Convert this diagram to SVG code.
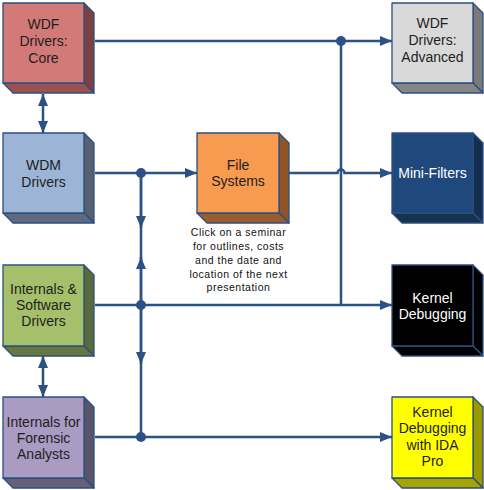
<svg xmlns="http://www.w3.org/2000/svg" width="484" height="490" viewBox="0 0 484 490">
<defs>
<style>
.f{stroke:#2c4f80;stroke-width:1.3;stroke-linejoin:round}
.t{font-family:"Liberation Sans",Arial,sans-serif;font-size:14px;text-anchor:middle;fill:#1e1e1e}
.w{fill:#ffffff}
.cap{font-family:"Liberation Sans",Arial,sans-serif;font-size:10.5px;letter-spacing:0.5px;text-anchor:middle;fill:#111}
.ln{fill:none;stroke:#2c5185;stroke-width:2.5}
.dot{fill:#2c5185}
</style>
<marker id="ah" viewBox="0 0 12 10" refX="12" refY="5" markerWidth="12" markerHeight="10" markerUnits="userSpaceOnUse" orient="auto">
<path d="M0,0 L12,5 L0,10 Z" fill="#2c5185"/>
</marker>
</defs>

<g id="connectors">
<!-- Core to Advanced -->
<line class="ln" x1="95" y1="41" x2="392" y2="41" marker-end="url(#ah)"/>
<line class="ln" x1="341" y1="41" x2="341" y2="305"/>
<circle class="dot" cx="341" cy="41" r="5"/>
<!-- WDM to File Systems -->
<line class="ln" x1="95" y1="173" x2="197" y2="173" marker-end="url(#ah)"/>
<!-- File Systems to Mini-Filters with hop -->
<path class="ln" d="M289,173 H337.5 A3.5,3.5 0 0 1 344.5,173 H392" marker-end="url(#ah)"/>
<!-- Internals to Kernel Debugging -->
<line class="ln" x1="95" y1="305" x2="392" y2="305" marker-end="url(#ah)"/>
<!-- Forensic to IDA -->
<line class="ln" x1="95" y1="437" x2="392" y2="437" marker-end="url(#ah)"/>
<!-- vertical bus -->
<line class="ln" x1="141" y1="173" x2="141" y2="437"/>
<line class="ln" x1="141" y1="173" x2="141" y2="228" marker-end="url(#ah)"/>
<line class="ln" x1="141" y1="305" x2="141" y2="257" marker-end="url(#ah)"/>
<line class="ln" x1="141" y1="305" x2="141" y2="364" marker-end="url(#ah)"/>
<circle class="dot" cx="141" cy="173" r="5"/>
<circle class="dot" cx="141" cy="305" r="5"/>
<circle class="dot" cx="141" cy="437" r="5"/>
<!-- double arrows -->
<line class="ln" x1="43" y1="113" x2="43" y2="94" marker-end="url(#ah)"/>
<line class="ln" x1="43" y1="113" x2="43" y2="133" marker-end="url(#ah)"/>
<line class="ln" x1="43" y1="376" x2="43" y2="356" marker-end="url(#ah)"/>
<line class="ln" x1="43" y1="376" x2="43" y2="397" marker-end="url(#ah)"/>
</g>

<g id="wdf-core">
<path class="f" fill="#7d3f3f" d="M84,3 L94,13 L94,93 L84,83 Z"/>
<path class="f" fill="#9a5250" d="M3,83 L84,83 L94,93 L13,93 Z"/>
<rect class="f" x="3" y="3" width="81" height="80" fill="#d27a78"/>
<text class="t" x="43.5" y="29">WDF</text>
<text class="t" x="43.5" y="46">Drivers:</text>
<text class="t" x="43.5" y="63">Core</text>
</g>

<g id="wdm-drivers">
<path class="f" fill="#56606f" d="M84,133 L94,143 L94,223 L84,213 Z"/>
<path class="f" fill="#5f6b7c" d="M3,213 L84,213 L94,223 L13,223 Z"/>
<rect class="f" x="3" y="133" width="81" height="80" fill="#9cb5d6"/>
<text class="t" x="43.5" y="170">WDM</text>
<text class="t" x="43.5" y="187">Drivers</text>
</g>

<g id="internals-software">
<path class="f" fill="#5a6a3a" d="M84,265 L94,275 L94,356 L84,346 Z"/>
<path class="f" fill="#66773f" d="M3,346 L84,346 L94,356 L13,356 Z"/>
<rect class="f" x="3" y="265" width="81" height="81" fill="#a5c06b"/>
<text class="t" x="43.5" y="294">Internals &amp;</text>
<text class="t" x="43.5" y="310">Software</text>
<text class="t" x="43.5" y="326">Drivers</text>
</g>

<g id="internals-forensic">
<path class="f" fill="#5a5468" d="M84,397 L94,407 L94,488 L84,478 Z"/>
<path class="f" fill="#67607a" d="M3,478 L84,478 L94,488 L13,488 Z"/>
<rect class="f" x="3" y="397" width="81" height="81" fill="#a99bc2"/>
<text class="t" x="43.5" y="427">Internals for</text>
<text class="t" x="43.5" y="443">Forensic</text>
<text class="t" x="43.5" y="459">Analysts</text>
</g>

<g id="file-systems">
<path class="f" fill="#8f5527" d="M279,133 L289,143 L289,223 L279,213 Z"/>
<path class="f" fill="#9c5d2c" d="M197,213 L279,213 L289,223 L207,223 Z"/>
<rect class="f" x="197" y="133" width="82" height="80" fill="#f79b50"/>
<text class="t" x="238" y="170">File</text>
<text class="t" x="238" y="186">Systems</text>
</g>

<g id="caption">
<text class="cap" x="238.5" y="236">Click on a seminar</text>
<text class="cap" x="238.5" y="250">for outlines, costs</text>
<text class="cap" x="238.5" y="264">and the date and</text>
<text class="cap" x="238.5" y="278">location of the next</text>
<text class="cap" x="238.5" y="291">presentation</text>
</g>

<g id="wdf-advanced">
<path class="f" fill="#7a7a7a" d="M473,3 L483,13 L483,93 L473,83 Z"/>
<path class="f" fill="#868686" d="M392,83 L473,83 L483,93 L402,93 Z"/>
<rect class="f" x="392" y="3" width="81" height="80" fill="#d9d9d9"/>
<text class="t" x="432.5" y="28">WDF</text>
<text class="t" x="432.5" y="45">Drivers:</text>
<text class="t" x="432.5" y="62">Advanced</text>
</g>

<g id="mini-filters">
<path class="f" fill="#142e4f" d="M473,133 L483,143 L483,223 L473,213 Z"/>
<path class="f" fill="#16324f" d="M392,213 L473,213 L483,223 L402,223 Z"/>
<rect class="f" x="392" y="133" width="81" height="80" fill="#1f497d"/>
<text class="t w" x="432.5" y="178">Mini-Filters</text>
</g>

<g id="kernel-debugging">
<path class="f" fill="#000" d="M473,265 L483,275 L483,356 L473,346 Z"/>
<path class="f" fill="#000" d="M392,346 L473,346 L483,356 L402,356 Z"/>
<rect class="f" x="392" y="265" width="81" height="81" fill="#000"/>
<text class="t w" x="432.5" y="303">Kernel</text>
<text class="t w" x="432.5" y="319">Debugging</text>
</g>

<g id="kernel-ida">
<path class="f" fill="#9a9a00" d="M473,397 L483,407 L483,488 L473,478 Z"/>
<path class="f" fill="#a6a600" d="M392,478 L473,478 L483,488 L402,488 Z"/>
<rect class="f" x="392" y="397" width="81" height="81" fill="#ffff00"/>
<text class="t" x="432.5" y="417">Kernel</text>
<text class="t" x="432.5" y="433">Debugging</text>
<text class="t" x="432.5" y="450">with IDA</text>
<text class="t" x="432.5" y="466">Pro</text>
</g>
</svg>
